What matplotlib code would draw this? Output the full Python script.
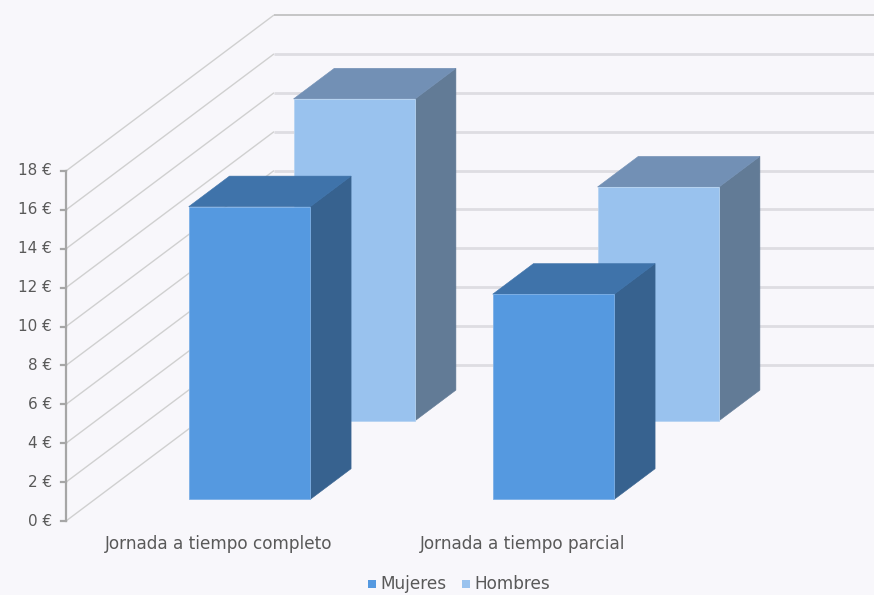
import matplotlib
matplotlib.use("Agg")
import matplotlib.pyplot as plt
from matplotlib.patches import Polygon, Rectangle

# Hourly wage by type of working day
categories = ["Jornada a tiempo completo", "Jornada a tiempo parcial"]
series_names = ["Mujeres", "Hombres"]
mujeres = [15.05, 10.55]
hombres = [16.55, 12.02]
yticks = [0, 2, 4, 6, 8, 10, 12, 14, 16, 18]
ytick_labels = [f"{t} €" for t in yticks]

# Face colours: front, side, top, front edge
palette = {
    "Mujeres": ("#5599E0", "#37628F", "#3F73AA", "#7DB0E6"),
    "Hombres": ("#99C2EE", "#627B96", "#7290B5", "#B5D3F2"),
}
# Depth rows (fraction of the floor depth) for each series
rows = {"Mujeres": (0.139, 0.335), "Hombres": (0.643, 0.839)}

BG = "#F8F7FB"
TEXT = "#595959"
W, H, DPI = 874, 595, 100

fig = plt.figure(figsize=(W / DPI, H / DPI), dpi=DPI, facecolor=BG)
ax = fig.add_axes([0, 0, 1, 1])
ax.set_facecolor(BG)
ax.axis("off")

# Front-plane scale: one category = 304 px, 1 € = 19.44 px
XPX, VPX = 304.0, 350.0 / 18
X0PX, V0PX = 220.6, 521.0
ax.set_xlim(-X0PX / XPX, (W - X0PX) / XPX)
ax.set_ylim((V0PX - H) / VPX, V0PX / VPX)

# Oblique depth offset of the back wall, in data units
DX = 208.0 / XPX
DV = 156.0 / VPX
x_axis = (66.0 - X0PX) / XPX
x_right = ax.get_xlim()[1] + 0.1
bar_w = 121.6 / XPX


def pt(x, v, d):
    return (x + d * DX, v + d * DV)


# Side-wall and back-wall gridlines
for t in yticks:
    is_top = t == yticks[-1]
    ax.plot([x_axis, x_axis + DX], [t, t + DV], color="#D0D0D0", lw=1.0,
            zorder=1, solid_capstyle="butt")
    ax.plot([x_axis + DX, x_right], [t + DV, t + DV],
            color="#BDBDBD" if is_top else "#DEDDE2",
            lw=1.2 if is_top else 2.0, zorder=1, solid_capstyle="butt")

# Value axis line and ticks
ax.plot([x_axis, x_axis], [yticks[0], yticks[-1]], color="#A6A6A6", lw=1.6, zorder=2)
for t, lab in zip(yticks, ytick_labels):
    ax.plot([x_axis - 5 / XPX, x_axis], [t, t], color="#A6A6A6", lw=1.6, zorder=2)
    ax.text(x_axis - 14 / XPX, t, lab, ha="right", va="center",
            fontsize=11, color=TEXT, family="DejaVu Sans")


def draw_bar(xc, value, d0, d1, colors, z):
    front, side, top, edge = colors
    xl, xr = xc - bar_w / 2, xc + bar_w / 2
    face = Polygon([pt(xl, 0, d0), pt(xr, 0, d0), pt(xr, value, d0), pt(xl, value, d0)],
                   closed=True, fc=front, ec=edge, lw=0.6, zorder=z)
    right = Polygon([pt(xr, 0, d0), pt(xr, 0, d1), pt(xr, value, d1), pt(xr, value, d0)],
                    closed=True, fc=side, ec=side, lw=0.4, zorder=z)
    lid = Polygon([pt(xl, value, d0), pt(xr, value, d0), pt(xr, value, d1), pt(xl, value, d1)],
                  closed=True, fc=top, ec=top, lw=0.4, zorder=z)
    for p in (right, lid, face):
        ax.add_patch(p)


# Back row first so the front row overlaps it
for name, vals, z in (("Hombres", hombres, 3), ("Mujeres", mujeres, 4)):
    d0, d1 = rows[name]
    for i, v in enumerate(vals):
        draw_bar(i, v, d0, d1, palette[name], z)

# Category labels
for i, c in enumerate(categories):
    ax.text(i - 0.005, (V0PX - 544) / VPX, c, ha="center", va="center",
            fontsize=12.2, color=TEXT, family="DejaVu Sans")

# Legend
leg_v = (V0PX - 584) / VPX
sq = 8
entries = [("Mujeres", 368), ("Hombres", 462)]
for name, xpx in entries:
    xd = (xpx - X0PX) / XPX
    ax.add_patch(Rectangle((xd, leg_v - (sq / 2) / VPX), sq / XPX, sq / VPX,
                           fc=palette[name][0], ec="none", zorder=5))
    ax.text(xd + (sq + 4) / XPX, leg_v, name, ha="left", va="center",
            fontsize=12.2, color=TEXT, family="DejaVu Sans")

fig.savefig("out.png", dpi=DPI, facecolor=BG)
